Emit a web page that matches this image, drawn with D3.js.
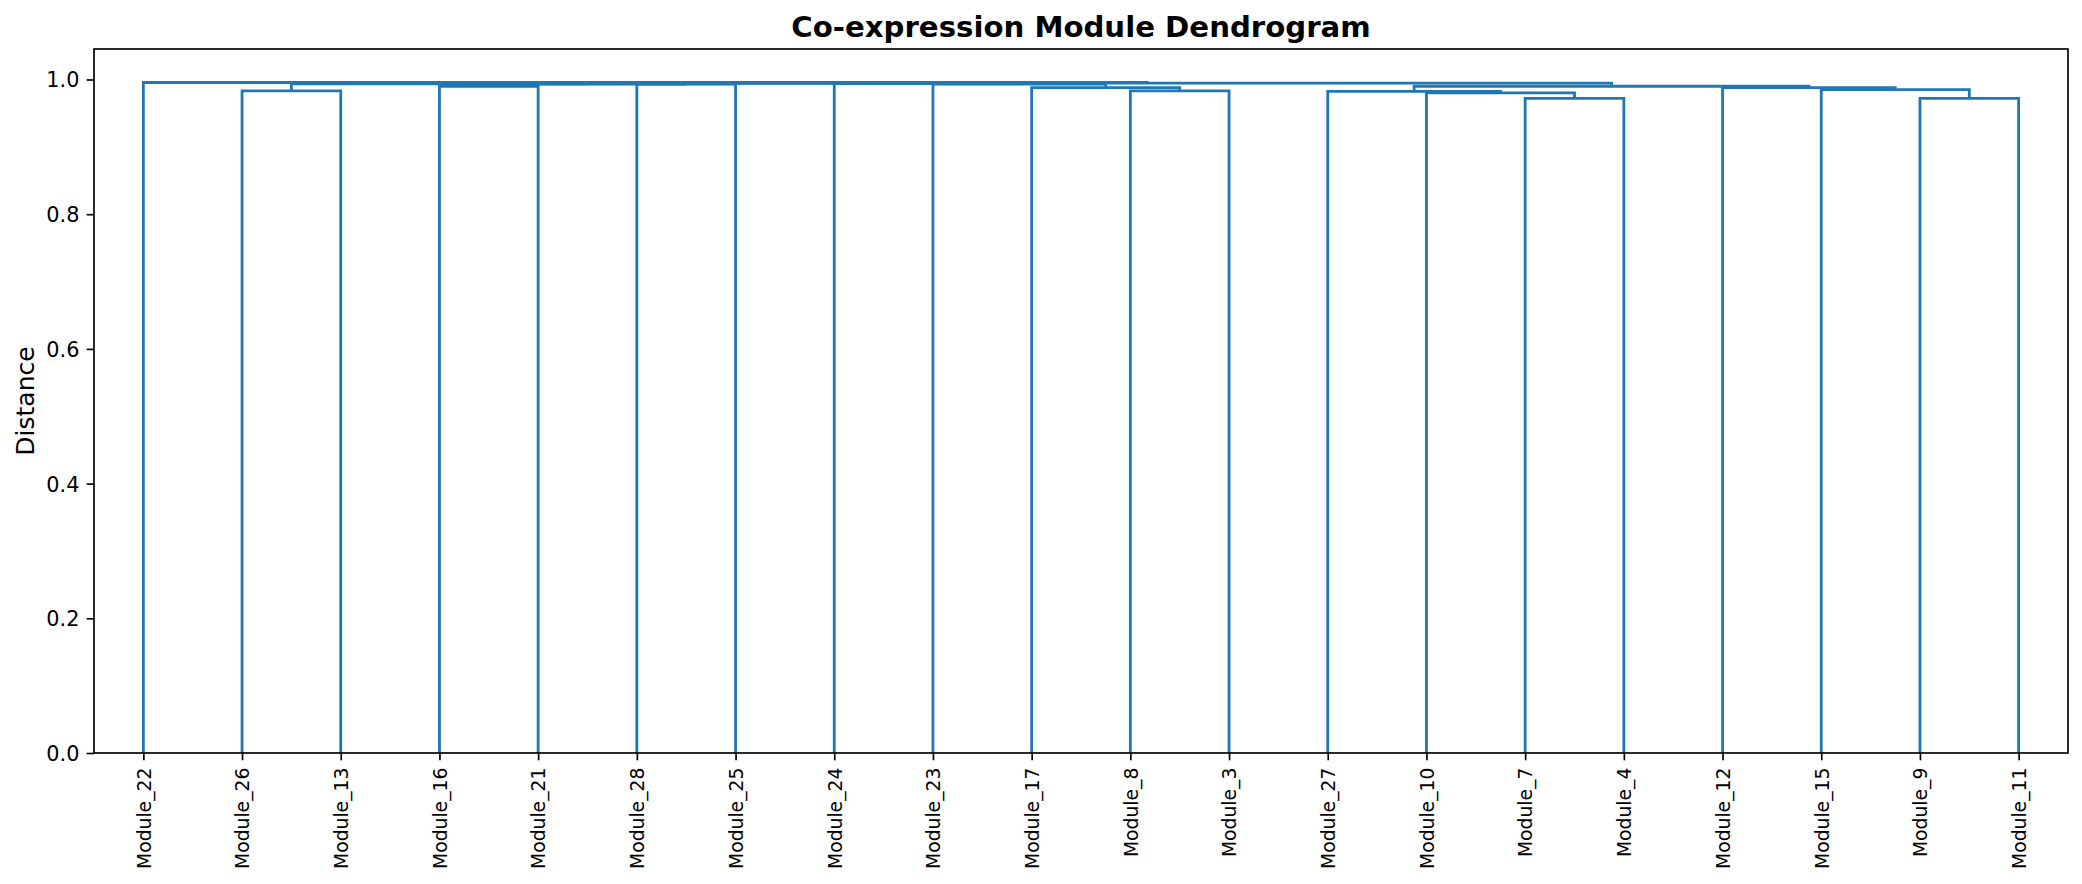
<!DOCTYPE html>
<html><head><meta charset="utf-8">
<script src="https://cdn.jsdelivr.net/npm/d3@7"></script>
<style>body{margin:0;background:#fff}svg{display:block}</style>
</head><body><svg id="c" width="2082" height="884"></svg>
<script>
// Leaves in dendrogram display order (left to right)
const leafLabels = ["Module_22","Module_26","Module_13","Module_16","Module_21","Module_28","Module_25","Module_24","Module_23","Module_17","Module_8","Module_3","Module_27","Module_10","Module_7","Module_4","Module_12","Module_15","Module_9","Module_11"];
// Linkage (scipy style): child indices < 20 are leaves, >= 20 refer to earlier merges (20 + k)
const mergeLeft   = [14, 18, 13, 12, 1, 10, 17, 9, 16, 3, 23, 5, 29, 8, 24, 7, 34, 36, 0];
const mergeRight  = [15, 19, 20, 22, 2, 11, 21, 25, 26, 4, 28, 6, 31, 27, 32, 33, 35, 30, 37];
const mergeHeight = [0.972, 0.972, 0.980, 0.9825, 0.983, 0.983, 0.985, 0.988, 0.988, 0.990, 0.990, 0.993, 0.9932, 0.9933, 0.9935, 0.9938, 0.9942, 0.9945, 0.9955];
const yTicks = [0.0, 0.2, 0.4, 0.6, 0.8, 1.0];
const titleText = "Co-expression Module Dendrogram";
const yLabelText = "Distance";

const svg = d3.select("#c");
const L = 94, R = 2068, T = 49, B = 753;
const nLeaves = leafLabels.length;
const maxH = d3.max(mergeHeight);
const x = d3.scaleLinear().domain([0, nLeaves * 10]).range([L, R]);
const y = d3.scaleLinear().domain([0, maxH * 1.05]).range([B, T]);

// node positions in data coordinates
const nodeX = leafLabels.map((d, i) => 10 * i + 5);
const nodeY = leafLabels.map(() => 0);
mergeLeft.forEach((l, k) => {
  const r = mergeRight[k];
  nodeX.push((nodeX[l] + nodeX[r]) / 2);
  nodeY.push(mergeHeight[k]);
});

const color = "#1f77b4";
const g = svg.append("g");
g.selectAll("path.link").data(mergeLeft.map((l, k) => ({l, r: mergeRight[k], h: mergeHeight[k]})))
  .join("path").attr("class", "link")
  .attr("fill", "none").attr("stroke", color).attr("stroke-width", 2.8)
  .attr("d", d => `M${x(nodeX[d.l])},${y(nodeY[d.l])}V${y(d.h)}H${x(nodeX[d.r])}V${y(nodeY[d.r])}`);

const font = "'DejaVu Sans', sans-serif";

// Y axis
const yAxis = svg.append("g").attr("transform", `translate(${L},0)`)
  .call(d3.axisLeft(y).tickValues(yTicks).tickFormat(d3.format(".1f")).tickSize(7.3).tickPadding(7.3));
yAxis.select(".domain").remove();
yAxis.selectAll(".tick line").attr("stroke", "#000").attr("stroke-width", 1.67);
yAxis.selectAll(".tick text").attr("font-family", font).attr("font-size", 20.8).attr("fill", "#000").attr("dy", "0.36em");

// X axis
const xAxis = svg.append("g").attr("transform", `translate(0,${B})`)
  .call(d3.axisBottom(x).tickValues(nodeX.slice(0, nLeaves)).tickFormat((d, i) => leafLabels[i]).tickSize(7.3).tickPadding(7.3));
xAxis.select(".domain").remove();
xAxis.selectAll(".tick line").attr("stroke", "#000").attr("stroke-width", 1.67);
xAxis.selectAll(".tick text").attr("font-family", font).attr("font-size", 18.75).attr("fill", "#000")
  .attr("text-anchor", "end").attr("y", 0).attr("dy", "0.36em")
  .attr("transform", "translate(0,14.6) rotate(-90)");

// Frame
svg.append("rect").attr("x", L).attr("y", T).attr("width", R - L).attr("height", B - T)
  .attr("fill", "none").attr("stroke", "#000").attr("stroke-width", 1.67);

// Title
svg.append("text").attr("x", (L + R) / 2).attr("y", 36.5).attr("text-anchor", "middle")
  .attr("font-family", font).attr("font-weight", "bold").attr("font-size", 29.2).attr("fill", "#000")
  .text(titleText);

// Y label
svg.append("text").attr("transform", `translate(34,${(T + B) / 2}) rotate(-90)`).attr("text-anchor", "middle")
  .attr("font-family", font).attr("font-size", 25).attr("fill", "#000").text(yLabelText);
</script>
</body></html>
